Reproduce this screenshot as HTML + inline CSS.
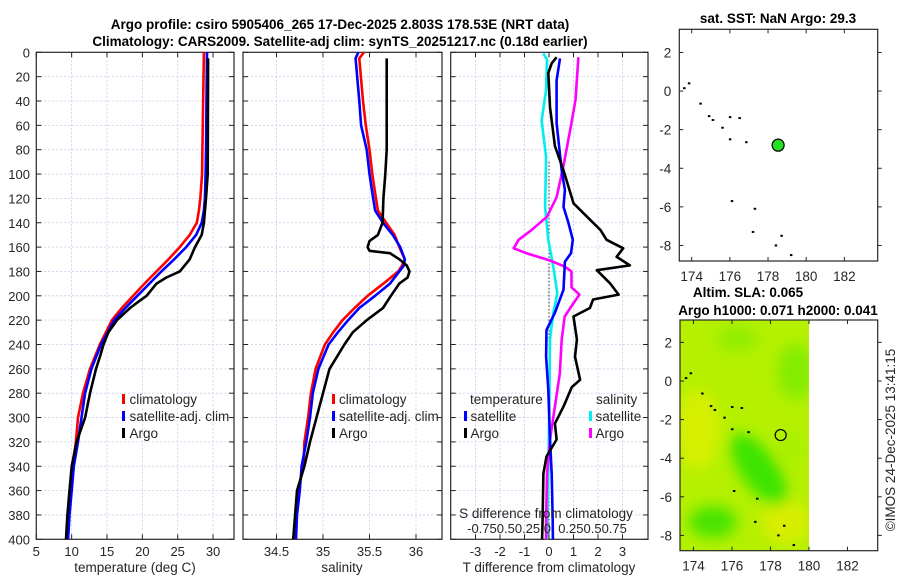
<!DOCTYPE html>
<html><head><meta charset="utf-8"><style>
html,body{margin:0;padding:0;background:#fff;}
svg{display:block;font-family:"Liberation Sans","DejaVu Sans",sans-serif;}
.tk{font-size:13px;fill:#262626;}
.tt{font-size:13.5px;font-weight:bold;fill:#000;}
</style></head><body>
<svg id="fig" width="900" height="580" viewBox="0 0 900 580"></svg>
<script>
// ---- data ----
const tClimDepth=[0,80,100,120,130,140,150,160,170,180,190,200,210,220,240,260,280,300,320,340,360,380,400];
const tClimVals=[28.7,28.5,28.45,28.2,28.0,27.7,26.7,25.3,23.7,22.0,20.3,18.7,17.1,15.7,14.0,12.6,11.6,10.9,10.6,10.1,9.8,9.5,9.35];
const tSatDepth=[0,80,100,120,130,140,150,160,170,180,190,200,210,220,240,260,280,300,320,340,360,380,400];
const tSatVals=[29.15,29.0,28.95,28.85,28.7,28.4,27.6,26.2,24.5,22.7,21.0,19.3,17.6,16.0,14.15,12.8,11.9,11.4,10.9,10.3,10.0,9.7,9.5];
const tArgoDepth=[5,100,120,140,150,160,170,180,185,190,200,205,210,220,230,240,250,260,280,300,320,340,360,380,400];
const tArgoVals=[29.3,29.25,29.0,28.7,28.4,27.45,26.7,25.3,23.4,22.0,20.6,19.4,18.25,16.4,15.2,14.5,14.0,13.45,12.6,11.9,10.7,10.0,9.7,9.4,9.2];

const sClimDepth=[0,5,40,60,80,100,120,130,140,150,160,170,175,180,190,200,210,220,230,240,260,280,300,320,340,360,380,400];
const sClimVals=[35.44,35.39,35.43,35.46,35.5,35.53,35.57,35.59,35.68,35.77,35.82,35.88,35.85,35.81,35.65,35.48,35.34,35.21,35.11,35.02,34.92,34.87,34.84,34.80,34.79,34.73,34.71,34.70];
const sSatDepth=[0,5,40,60,80,100,120,130,140,150,160,170,175,180,190,200,210,220,230,240,260,280,300,320,340,360,380,400];
const sSatVals=[35.38,35.35,35.39,35.41,35.47,35.5,35.54,35.56,35.645,35.75,35.83,35.88,35.87,35.82,35.72,35.56,35.39,35.27,35.16,35.06,34.95,34.89,34.86,34.82,34.77,34.75,34.72,34.71];
const sArgoDepth=[5,80,100,120,130,140,150,155,160,163,165,170,175,180,185,190,200,210,220,230,240,260,280,300,320,340,360,380,400];
const sArgoVals=[35.685,35.685,35.67,35.65,35.645,35.64,35.59,35.5,35.48,35.5,35.72,35.82,35.9,35.93,35.91,35.82,35.73,35.645,35.47,35.32,35.23,35.07,35.0,34.93,34.86,34.80,34.72,34.70,34.68];

const dTSatDepth=[5,23,58,97,113,127,140,154,165,172,195,214,228,250,277,318,346,384,400];
const dTSatVals=[0.45,0.31,0.31,0.52,0.65,0.59,0.79,0.97,0.90,0.65,0.59,0.24,-0.1,-0.12,-0.03,0.04,0.11,0.15,0.16];
const dTArgoDepth=[4,9,17,45,77,97,124,135,146,154,161,168,175,179,190,199,203,210,217,236,250,269,275,291,305,318,332,346,384,400];
const dTArgoVals=[0.31,0.11,-0.03,0.04,0.24,0.59,1.0,1.55,2.1,2.35,3.03,2.76,3.3,1.95,2.5,2.84,1.8,1.67,1.0,1.14,1.06,1.27,0.93,0.59,0.24,0.31,-0.1,-0.23,-0.26,-0.28];
const dSSatDepth=[1,6,31,56,86,127,154,176,198,214,236,291,346,384,400];
const dSSatVals=[-0.058,-0.02,-0.03,-0.075,-0.03,-0.04,-0.007,0.044,0.085,0.044,0.01,0.003,-0.007,-0.017,-0.02];
const dSArgoDepth=[4,39,58,94,119,135,146,154,161,165,171,176,180,193,199,206,217,236,264,291,318,346,384,400];
const dSArgoVals=[0.30,0.27,0.23,0.146,0.078,-0.02,-0.18,-0.31,-0.36,-0.23,0.01,0.16,0.23,0.23,0.31,0.25,0.16,0.13,0.11,0.06,0.01,-0.02,-0.03,-0.03];

const depthTicks=[0,20,40,60,80,100,120,140,160,180,200,220,240,260,280,300,320,340,360,380,400];
const tempTicks=[5,10,15,20,25,30];
const salTicks=[34.5,35,35.5,36];
const diffTicks=[-3,-2,-1,0,1,2,3];
const lonTicks=[174,176,178,180,182];
const latTicks=[2,0,-2,-4,-6,-8];
const argoLon=178.53, argoLat=-2.803;
const islandLon=[173.6,173.85,174.45,174.9,175.1,175.6,176.0,176.5,176.0,176.85,176.1,177.3,177.2,178.7,178.4,179.2];
const islandLat=[0.15,0.4,-0.65,-1.3,-1.5,-1.9,-1.35,-1.4,-2.5,-2.65,-5.7,-6.1,-7.3,-7.5,-8.0,-8.5];

// ---- scales ----
const yD=d=>52.3+d*1.2175;
const xT=t=>36.3+(t-5)*7.07;
const xS=s=>323+(s-35)*93;
const xDT=t=>549+t*24.5;
const xDS=s=>549+s*98;
const P1={l:36.3,r:234},P2={l:243,r:442},P3={l:450.7,r:648};
const pTop=52.3,pBot=539.3;

const NS='http://www.w3.org/2000/svg';
const svg=document.getElementById('fig');
function mk(tag,attrs,parent){const e=document.createElementNS(NS,tag);for(const k in attrs)e.setAttribute(k,attrs[k]);(parent||svg).appendChild(e);return e;}
function txt(x,y,s,cls,anchor,parent){const e=mk('text',{x:x,y:y,class:cls,'text-anchor':anchor||'middle'},parent);e.textContent=s;return e;}

// defs
const defs=mk('defs',{});
const f=mk('filter',{id:'blur',x:'-50%',y:'-50%',width:'200%',height:'200%'},defs);
mk('feGaussianBlur',{stdDeviation:'7'},f);
const cp=mk('clipPath',{id:'m2clip'},defs);
mk('rect',{x:680,y:320,width:(680+(180-173.3)*19.25)-680,height:550.7-320},cp);

// ---- profile panels ----
function panel(P,name,vgrid,xf){
  const g=mk('g',{});
  
  
  depthTicks.forEach(d=>{if(d>0&&d<400)mk('line',{x1:P.l,x2:P.r,y1:yD(d),y2:yD(d),stroke:'#c4cce6','stroke-width':0.8,'stroke-dasharray':'2,2'},g);
    mk('line',{x1:P.l,x2:P.l+5,y1:yD(d),y2:yD(d),stroke:'#222','stroke-width':1},g);
    mk('line',{x1:P.r-5,x2:P.r,y1:yD(d),y2:yD(d),stroke:'#222','stroke-width':1},g);});
  vgrid.forEach(v=>{const x=xf(v);mk('line',{x1:x,x2:x,y1:pTop,y2:pBot,stroke:'#c4cce6','stroke-width':0.8,'stroke-dasharray':'2,2'},g);
    mk('line',{x1:x,x2:x,y1:pTop,y2:pTop+5,stroke:'#222'},g);mk('line',{x1:x,x2:x,y1:pBot-5,y2:pBot,stroke:'#222'},g);});
  mk('rect',{x:P.l,y:pTop,width:P.r-P.l,height:pBot-pTop,fill:'none',stroke:'#262626','stroke-width':1.2},g);
  return g;
}
function line(xs,ds,xf,color,name,w){
  const p=mk('polyline',{points:xs.map((v,i)=>xf(v).toFixed(1)+','+yD(ds[i]).toFixed(1)).join(' '),fill:'none',stroke:color,'stroke-width':w||2.6,'stroke-linejoin':'round'});
  
  
  return p;
}
panel(P1,'temperature-panel',tempTicks,xT);
panel(P2,'salinity-panel',salTicks,xS);
panel(P3,'difference-panel',diffTicks,xDT);

depthTicks.forEach(d=>{const t=txt(30,yD(d)+5,String(d),'tk','end');});
tempTicks.forEach(v=>{const t=txt(xT(v),556,String(v),'tk');});
salTicks.forEach(v=>{const t=txt(xS(v),556,String(v),'tk');});
diffTicks.forEach(v=>{const t=txt(xDT(v),556,String(v),'tk');});

// zero dotted line
mk('line',{x1:xDT(0),x2:xDT(0),y1:yD(90),y2:pBot,stroke:'#333','stroke-width':1,'stroke-dasharray':'1.5,2'});

line(tClimVals,tClimDepth,xT,'#ff0000','temp-climatology-line');
line(tSatVals,tSatDepth,xT,'#0000ff','temp-satellite-line');
line(tArgoVals,tArgoDepth,xT,'#000000','temp-argo-line');
line(sClimVals,sClimDepth,xS,'#ff0000','sal-climatology-line');
line(sSatVals,sSatDepth,xS,'#0000ff','sal-satellite-line');
line(sArgoVals,sArgoDepth,xS,'#000000','sal-argo-line');
line(dSSatVals,dSSatDepth,xDS,'#00eeee','sdiff-satellite-line');
line(dSArgoVals,dSArgoDepth,xDS,'#ff00ff','sdiff-argo-line');
line(dTSatVals,dTSatDepth,xDT,'#0000ff','tdiff-satellite-line');
line(dTArgoVals,dTArgoDepth,xDT,'#000000','tdiff-argo-line');
</script>
<script>
(function(){
const svg=document.getElementById('fig');
const NS='http://www.w3.org/2000/svg';
function mk(tag,attrs,parent){const e=document.createElementNS(NS,tag);for(const k in attrs)e.setAttribute(k,attrs[k]);(parent||svg).appendChild(e);return e;}
function txt(x,y,s,cls,anchor,extra,parent){const e=mk('text',Object.assign({x:x,y:y,class:cls,'text-anchor':anchor||'middle'},extra||{}),parent);e.textContent=s;return e;}
function legend(mx,tx,ys,labels,colors,name){
  labels.forEach((l,i)=>{
    const r=mk('rect',{x:mx,y:ys[i]-10,width:3,height:10,fill:colors[i]});
    
    
    const t=txt(tx,ys[i],l,'tk','start',{style:'font-size:13.5px'});
    
    
  });
}
legend(122,129.5,[404,421,438],['climatology','satellite-adj. clim','Argo'],['#ff0000','#0000ff','#000'],'temp-legend');
legend(332,339,[404,421,438],['climatology','satellite-adj. clim','Argo'],['#ff0000','#0000ff','#000'],'sal-legend');
let t=txt(470,404,'temperature','tk','start',{style:'font-size:13.5px'});
legend(464,470.5,[421,438],['satellite','Argo'],['#0000ff','#000'],'tdiff-legend');
t=txt(596,404,'salinity','tk','start',{style:'font-size:13.5px'});
legend(589,595.5,[421,438],['satellite','Argo'],['#00eeee','#ff00ff'],'sdiff-legend');

t=txt(546,518,'S difference from climatology','tk','middle',{style:'font-size:13.5px'});
t=txt(547,533,'-0.750.50.25 0  0.250.50.75','tk','middle',{style:'font-size:13px;white-space:pre','xml:space':'preserve'});

t=txt(135,572,'temperature (deg C)','tk','middle',{style:'font-size:13.5px'});
t=txt(342,572,'salinity','tk','middle',{style:'font-size:13.5px'});
t=txt(549,572,'T difference from climatology','tk','middle',{style:'font-size:13.5px'});

t=txt(340,29,'Argo profile: csiro 5905406_265 17-Dec-2025 2.803S 178.53E (NRT data)','tt');
t=txt(340,46,'Climatology: CARS2009. Satellite-adj clim: synTS_20251217.nc (0.18d earlier)','tt');
t=txt(778,23,'sat. SST: NaN Argo: 29.3','tt');
t=txt(748,297,'Altim. SLA: 0.065','tt');
t=txt(778,315,'Argo h1000: 0.071 h2000: 0.041','tt');
t=txt(0,0,'©IMOS 24-Dec-2025 13:41:15','tk','middle',{transform:'translate(895,440) rotate(-90)',style:'font-size:13.5px'});

function map(M,name,sla){
  const g=mk('g',{});
  
  
  if(sla){
    const h=mk('g',{'clip-path':'url(#m2clip)'},g);
    mk('rect',{x:M.l,y:M.t,width:M.lon(180)-M.l,height:M.b-M.t,fill:'#b4f000'},h);
    const bl=mk('g',{filter:'url(#blur)'},h);
    [[174.2,-2.5,22,40,'#d6f000'],[178.8,-7.3,25,22,'#d8ee00'],[179.3,0.5,18,28,'#84ec00'],[177.4,-4.6,18,42,'#3ee400',-35],[175.0,-7.3,24,16,'#48e400'],[176.3,2.2,20,12,'#90ec00'],[179.0,-3.5,10,18,'#a6ee00']].forEach(b=>{
      const a={cx:M.lon(b[0]),cy:M.lat(b[1]),rx:b[2],ry:b[3],fill:b[4]};
      if(b[5])a.transform=`rotate(${b[5]} ${M.lon(b[0])} ${M.lat(b[1])})`;
      mk('ellipse',a,bl);
    });
  }
  lonTicks.forEach(v=>{const x=M.lon(v);mk('line',{x1:x,x2:x,y1:M.t,y2:M.t+4,stroke:'#222'},g);mk('line',{x1:x,x2:x,y1:M.b-4,y2:M.b,stroke:'#222'},g);
    const tt=txt(x,M.b+20,String(v),'tk','middle',{style:'font-size:13.5px'},g);});
  latTicks.forEach(v=>{const y=M.lat(v);mk('line',{x1:M.l,x2:M.l+4,y1:y,y2:y,stroke:'#222'},g);mk('line',{x1:M.r,x2:M.r+4,y1:y,y2:y,stroke:'#222'},g);
    const tt=txt(M.l-8,y+5,String(v),'tk','end',{style:'font-size:13.5px'},g);});
  islandLon.forEach((lo,i)=>mk('rect',{x:M.lon(lo)-1,y:M.lat(islandLat[i])-1,width:2.5,height:2,fill:'#000'},g));
  mk('rect',{x:M.l,y:M.t,width:M.r-M.l,height:M.b-M.t,fill:'none',stroke:'#262626','stroke-width':1.2},g);
  const c=mk('circle',{cx:M.lon(argoLon),cy:M.lat(argoLat),r:sla?5.5:6,fill:sla?'none':'#22e022',stroke:'#000','stroke-width':1.2},g);
  
  
}
map({l:679.3,r:877.7,t:29.3,b:261,lon:x=>679.3+(x-173.35)*19.08,lat:y=>29.3+(3.2-y)*19.3},'sst-map',false);
map({l:680,r:877.7,t:320,b:550.7,lon:x=>680+(x-173.3)*19.25,lat:y=>320+(3.16-y)*19.3},'sla-map',true);
})();
</script>
</body></html>
